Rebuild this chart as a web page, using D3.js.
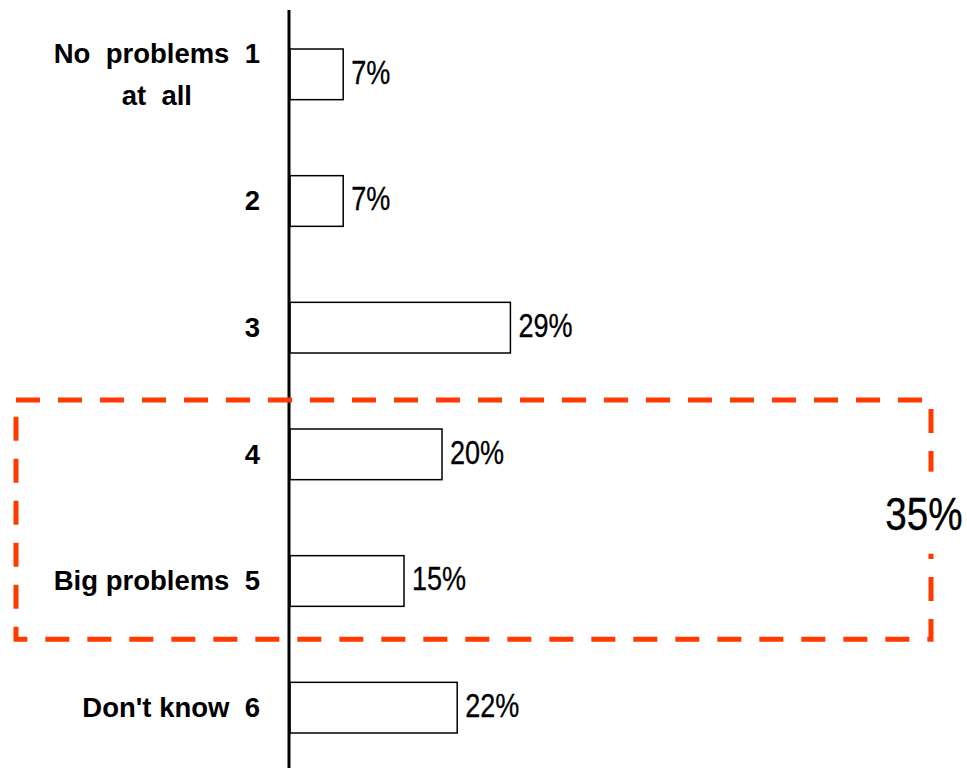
<!DOCTYPE html>
<html>
<head>
<meta charset="utf-8">
<script src="https://cdn.jsdelivr.net/npm/d3@7"></script>
<style>
  body { margin: 0; background: #fff; }
  text { font-family: "Liberation Sans", Arial, sans-serif; fill: #000; }
</style>
</head>
<body>
<div id="chart"></div>
<script>
// data
var categories = ["1", "2", "3", "4", "5", "6"];
var labels = [["No  problems  1", "at  all"], ["2"], ["3"], ["4"], ["Big problems  5"], ["Don't know  6"]];
var values = [7, 7, 29, 20, 15, 22];
var highlighted = ["4", "5"];

var width = 967, height = 768;
var narrow = 0.82; // squeeze to look like a narrow face

var svg = d3.select("#chart").append("svg")
    .attr("width", width)
    .attr("height", height);

// scales
var y = d3.scaleBand()
    .domain(categories)
    .range([11, 771])
    .paddingInner(0.6)
    .paddingOuter(0.3);

var x = d3.scaleLinear()
    .domain([0, 100])
    .range([290, 1050]);

var rows = categories.map(function(c, i) { return {cat: c, value: values[i], label: labels[i]}; });

// bars
svg.append("g")
  .selectAll("rect")
  .data(rows)
  .enter().append("rect")
    .attr("x", x(0))
    .attr("y", function(d) { return y(d.cat); })
    .attr("width", function(d) { return x(d.value) - x(0); })
    .attr("height", y.bandwidth())
    .style("fill", "#fff")
    .style("stroke", "#000")
    .style("stroke-width", 1.5);

// value labels
svg.append("g")
  .selectAll("text")
  .data(rows)
  .enter().append("text")
    .attr("transform", function(d) {
      return "translate(" + (x(d.value) + 8) + "," + (y(d.cat) + y.bandwidth() / 2) + ") scale(" + narrow + ",1)";
    })
    .attr("dy", "0.28em")
    .style("font-size", "33px")
    .style("stroke", "#000")
    .style("stroke-width", 0.3)
    .text(function(d) { return d.value + "%"; });

// category labels
var labelX = x(0) - 30;
var cl = svg.append("g")
  .selectAll("text")
  .data(rows)
  .enter().append("text")
    .style("font-size", "27.5px")
    .style("font-weight", "bold")
    .attr("xml:space", "preserve")
    .attr("transform", function(d) {
      var off = (d.label.length - 1) * 21;
      return "translate(0," + (y(d.cat) + y.bandwidth() / 2 - off) + ")";
    });

cl.each(function(d) {
  var t = d3.select(this);
  var first = t.append("tspan")
      .attr("x", labelX)
      .attr("dy", "0.34em")
      .attr("text-anchor", "end")
      .text(d.label[0]);
  if (d.label.length > 1) {
    var w = first.node().getComputedTextLength();
    t.append("tspan")
        .attr("x", labelX - w / 2)
        .attr("dy", "42px")
        .attr("text-anchor", "middle")
        .text(d.label[1]);
  }
});

// axis line
svg.append("line")
    .attr("x1", x(0) - 1)
    .attr("x2", x(0) - 1)
    .attr("y1", 10)
    .attr("y2", height)
    .style("stroke", "#000")
    .style("stroke-width", 3);

// highlight box
var top4 = y(highlighted[0]), bot5 = y(highlighted[1]) + y.bandwidth();
var boxTop = top4 - 29, boxBot = bot5 + 33;
svg.append("rect")
    .attr("x", 16)
    .attr("y", boxTop)
    .attr("width", 915)
    .attr("height", boxBot - boxTop)
    .style("fill", "none")
    .style("stroke", "#ff3a00")
    .style("stroke-width", 5)
    .style("stroke-dasharray", "24,18");

var total = d3.sum(rows.filter(function(d) { return highlighted.indexOf(d.cat) >= 0; }), function(d) { return d.value; });
var midY = (boxTop + boxBot) / 2 - 6;

svg.append("rect")
    .attr("x", 882)
    .attr("y", midY - 42)
    .attr("width", 85)
    .attr("height", 82)
    .style("fill", "#fff");

svg.append("text")
    .attr("transform", "translate(924," + midY + ") scale(0.84,1)")
    .attr("dy", "0.36em")
    .attr("text-anchor", "middle")
    .style("font-size", "46px")
    .style("stroke", "#000")
    .style("stroke-width", 0.4)
    .text(total + "%");
</script>
</body>
</html>
